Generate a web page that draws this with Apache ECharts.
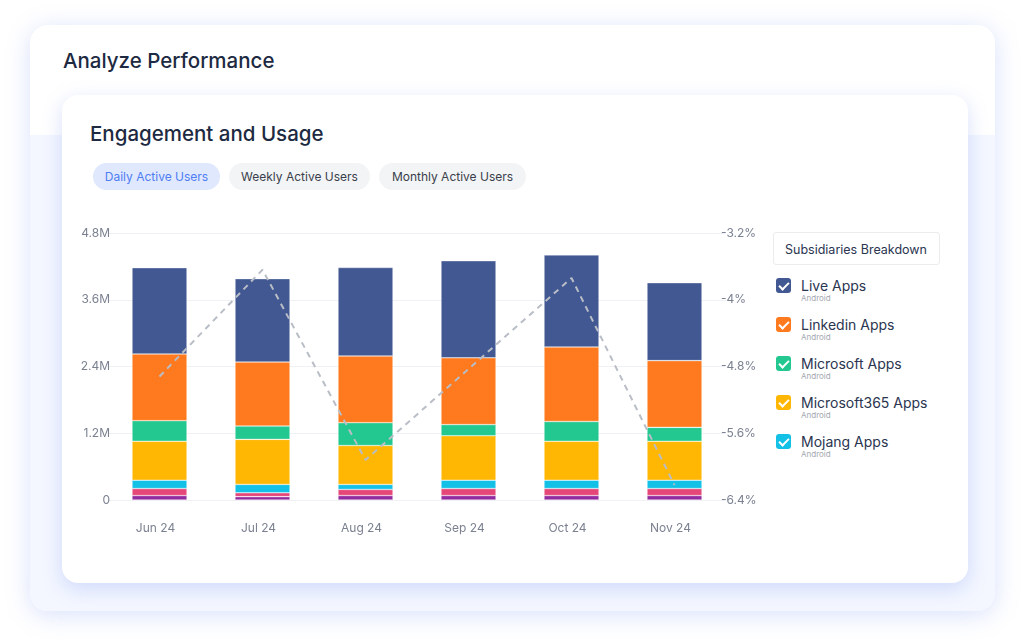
<!DOCTYPE html>
<html lang="en">
<head>
<meta charset="UTF-8">
<title>Analyze Performance</title>
<script src="https://cdn.jsdelivr.net/npm/echarts@6/dist/echarts.min.js"></script>
<style>
  html, body { margin: 0; padding: 0; background: #fff; }
  body { width: 1024px; height: 644px; position: relative; overflow: hidden; font-family: "Inter", "DejaVu Sans", sans-serif; }
  .outer {
    position: absolute; left: 30px; top: 25px; width: 965px; height: 586px;
    border-radius: 18px; background: #fff; overflow: hidden;
    box-shadow: 0 4px 24px rgba(110, 140, 240, 0.26);
  }
  .outer .band { position: absolute; left: 0; right: 0; top: 110px; bottom: 0; background: #f4f7ff; }
  .outer h1 { position: absolute; left: 33px; top: 23px; margin: 0; font-size: 20.5px; font-weight: 500; color: #1d2a42; }
  .inner {
    position: absolute; left: 62px; top: 95px; width: 906px; height: 488px;
    border-radius: 16px; background: #fff;
    box-shadow: 0 6px 20px rgba(100, 130, 240, 0.25);
  }
  .inner h2 { position: absolute; left: 28px; top: 26px; margin: 0; font-size: 20.5px; font-weight: 500; color: #1d2a42; }
  .tab {
    position: absolute; top: 68px; height: 27px; line-height: 27px; border-radius: 14px;
    background: #f3f4f6; color: #3a3f4b; font-size: 12px; text-align: center;
  }
  .tab.on { background: #dfe8fd; color: #4f7df3; }
  #chart { position: absolute; left: 0; top: 115px; width: 706px; height: 340px; }
  .legend-head {
    position: absolute; left: 711px; top: 137px; width: 167px; height: 33px; line-height: 33px;
    border: 1px solid #ececec; border-radius: 3px; font-size: 12.5px; color: #2a3550; padding-left: 11px; box-sizing: border-box;
  }
  .item { position: absolute; left: 714px; }
  .item .box { position: absolute; left: 0; top: 0; width: 15px; height: 15px; border-radius: 3px; }
  .item .box::after {
    content: ""; position: absolute; left: 5px; top: 2px; width: 4px; height: 8px;
    border-right: 2px solid #fff; border-bottom: 2px solid #fff; transform: rotate(45deg);
  }
  .item .name { position: absolute; left: 25px; top: -1px; font-size: 14px; color: #2a3550; white-space: nowrap; }
  .item .sub { position: absolute; left: 25px; top: 15px; font-size: 8px; color: #a3a7b0; }
</style>
</head>
<body>
<div class="outer">
  <div class="band"></div>
  <h1>Analyze Performance</h1>
</div>
<div class="inner">
  <h2>Engagement and Usage</h2>
  <div class="tab on" style="left:31px;width:127px;">Daily Active Users</div>
  <div class="tab" style="left:167px;width:141px;">Weekly Active Users</div>
  <div class="tab" style="left:317px;width:147px;">Monthly Active Users</div>
  <div id="chart"></div>
  <div class="legend-head">Subsidiaries Breakdown</div>
  <div id="legend"></div>
</div>
<script>
// months on the x axis
var months = ['Jun 24', 'Jul 24', 'Aug 24', 'Sep 24', 'Oct 24', 'Nov 24'];

// daily active users, millions (stack order bottom -> top)
var otherB      = [0.08, 0.06, 0.08, 0.08, 0.08, 0.08];
var otherA      = [0.126, 0.07, 0.11, 0.126, 0.126, 0.126];
var mojang      = [0.15, 0.15, 0.09, 0.15, 0.15, 0.15];
var microsoft365 = [0.70, 0.81, 0.70, 0.80, 0.70, 0.70];
var microsoft   = [0.37, 0.24, 0.41, 0.20, 0.355, 0.25];
var linkedin    = [1.20, 1.15, 1.20, 1.20, 1.34, 1.20];
var live        = [1.55, 1.50, 1.59, 1.745, 1.655, 1.40];

// change, percent (right axis)
var change = [-4.92, -3.64, -5.92, -4.83, -3.74, -6.22];

var series_list = [
    { name: 'Other Apps B', data: otherB, color: '#922aa0', legend: false },
    { name: 'Other Apps A', data: otherA, color: '#e54878', legend: false },
    { name: 'Mojang Apps', data: mojang, color: '#13c0e6', legend: true },
    { name: 'Microsoft365 Apps', data: microsoft365, color: '#ffb703', legend: true },
    { name: 'Microsoft Apps', data: microsoft, color: '#22c890', legend: true },
    { name: 'Linkedin Apps', data: linkedin, color: '#ff7a1e', legend: true },
    { name: 'Live Apps', data: live, color: '#425892', legend: true }
];

// html legend with checkboxes (top item is the top of the stack)
var legendHtml = '';
var shown = series_list.filter(function (s) { return s.legend; }).reverse();
shown.forEach(function (s, i) {
    legendHtml += '<div class="item" style="top:' + (183 + i * 39) + 'px">' +
        '<div class="box" style="background:' + s.color + '"></div>' +
        '<div class="name">' + s.name + '</div>' +
        '<div class="sub">Android</div></div>';
});
document.getElementById('legend').innerHTML = legendHtml;

var myChart = echarts.init(document.getElementById('chart'));

var axisFont = { color: '#7b8191', fontSize: 12, fontFamily: 'Inter' };

var seriesOpt = series_list.map(function (s) {
    return {
        name: s.name,
        type: 'bar',
        stack: 'dau',
        barWidth: 55,
        data: s.data,
        itemStyle: { color: s.color, borderColor: 'rgba(255,255,255,0.55)', borderWidth: 0.6 }
    };
});
seriesOpt.push({
    name: 'Change',
    type: 'line',
    yAxisIndex: 1,
    data: change,
    symbol: 'none',
    z: 5,
    lineStyle: { color: '#b9bdc6', width: 2, type: [6, 5] }
});

var option = {
    animation: false,
    grid: { left: 46, right: 42, top: 23, bottom: 50 },
    xAxis: {
        type: 'category',
        data: months,
        axisLine: { show: false },
        axisTick: { show: false },
        axisLabel: Object.assign({ margin: 21, padding: [1, 8, 0, 0] }, axisFont)
    },
    yAxis: [{
        type: 'value',
        min: 0,
        max: 4.8,
        interval: 1.2,
        axisLine: { show: false },
        axisTick: { show: false },
        splitLine: { lineStyle: { color: '#f0f1f4' } },
        axisLabel: Object.assign({
            margin: -2,
            formatter: function (v) { return v === 0 ? '0' : parseFloat(v.toFixed(1)) + 'M'; }
        }, axisFont)
    }, {
        type: 'value',
        min: -6.4,
        max: -3.2,
        interval: 0.8,
        axisLine: { show: false },
        axisTick: { show: false },
        splitLine: { show: false },
        axisLabel: Object.assign({
            margin: -5,
            formatter: function (v) { return parseFloat(v.toFixed(1)) + '%'; }
        }, axisFont)
    }],
    series: seriesOpt
};
myChart.setOption(option);
</script>
</body>
</html>
